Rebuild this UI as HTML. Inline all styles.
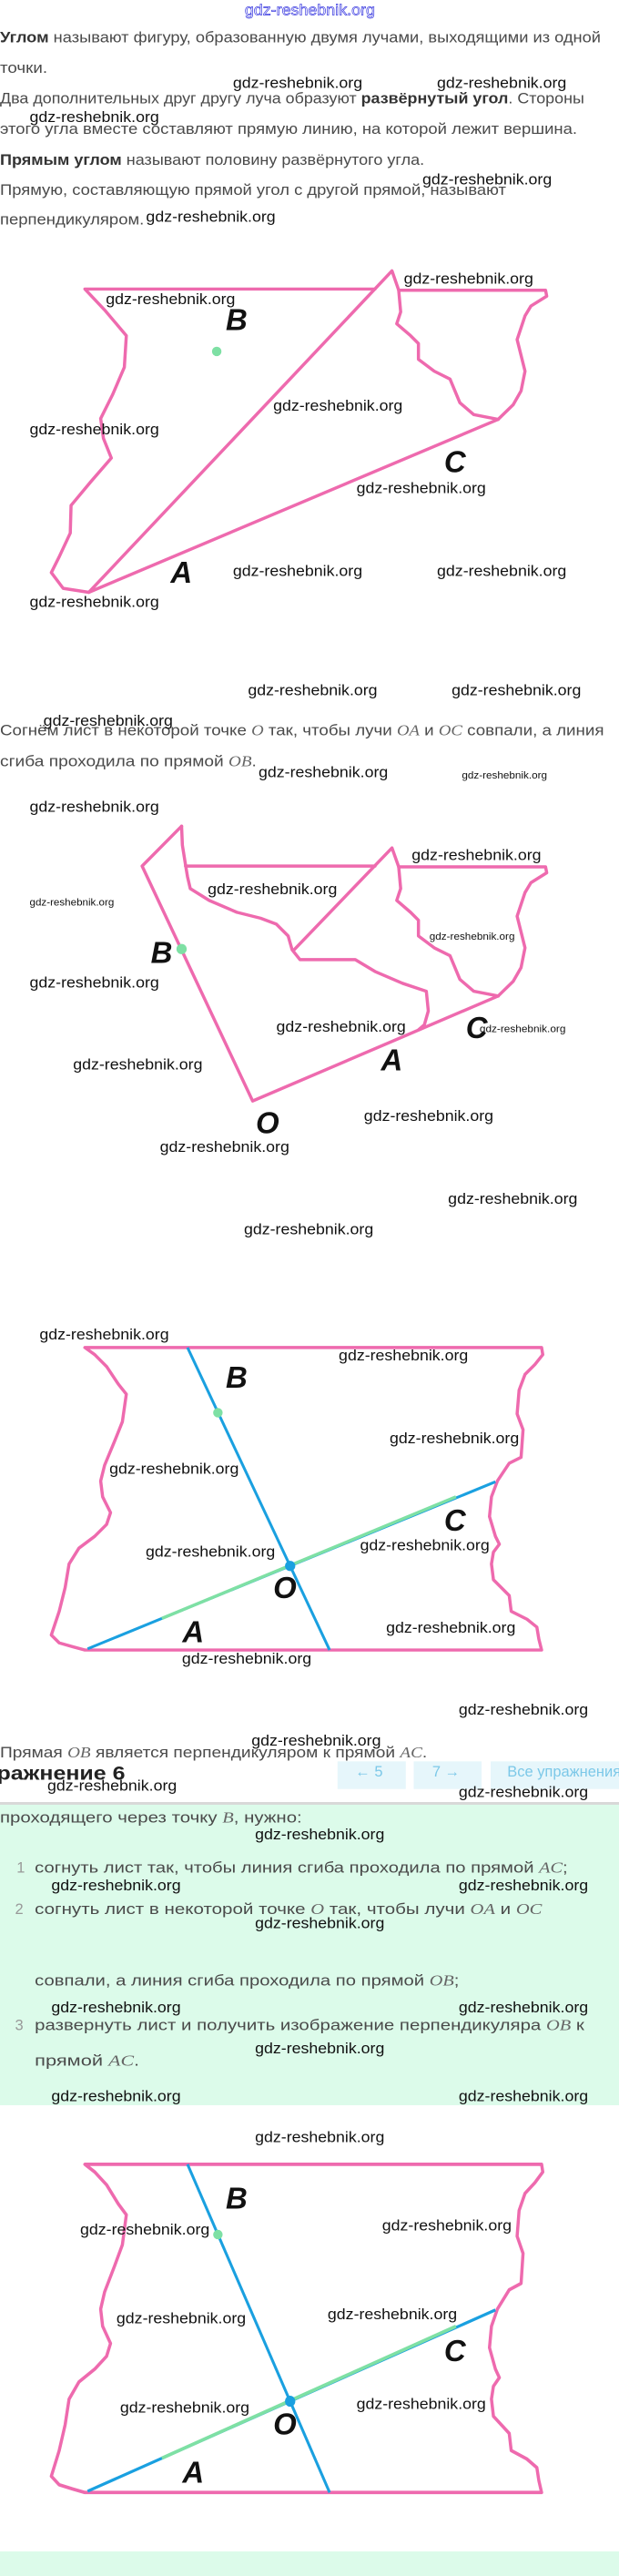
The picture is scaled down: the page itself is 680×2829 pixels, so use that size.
<!DOCTYPE html>
<html><head><meta charset="utf-8"><style>
html,body{margin:0;padding:0;background:#fff;}
svg{display:block;}
.t{font-family:"Liberation Sans",sans-serif;font-size:39px;fill:#4a4a4a;}
.b{font-weight:bold;fill:#333;}
.m{font-family:"Liberation Serif",serif;font-style:italic;fill:#666;}
.w{font-family:"Liberation Sans",sans-serif;font-size:38px;fill:#111;}
.ws{font-family:"Liberation Sans",sans-serif;font-size:26px;fill:#111;}
.l{font-family:"Liberation Sans",sans-serif;font-size:76px;font-weight:bold;font-style:italic;fill:#111;}
.p{fill:none;stroke:#ee6aae;stroke-width:8;stroke-linejoin:round;stroke-linecap:round;}
.n{font-family:"Liberation Sans",sans-serif;font-size:38px;fill:#999;}
</style></head><body>
<svg width="680" height="2829" viewBox="0 0 680 2829" xmlns="http://www.w3.org/2000/svg">
<rect x="0" y="1982" width="680" height="330" fill="#dcfbea"/>
<rect x="0" y="1979" width="680" height="3" fill="#d8d8d8"/>
<rect x="0" y="2802" width="680" height="27" fill="#dcfbea"/>

<!-- Section 1 -->
<g transform="scale(0.43365)">
<text x="620" y="38" font-family="Liberation Sans,sans-serif" font-size="38" fill="none" stroke="#3a3ae0" stroke-width="1.5" textLength="330" lengthAdjust="spacingAndGlyphs">gdz-reshebnik.org</text>
<text class="t" x="0" y="107" textLength="1522" lengthAdjust="spacingAndGlyphs"><tspan class="b">Углом</tspan> называют фигуру, образованную двумя лучами, выходящими из одной</text>
<text class="t" x="0" y="185" textLength="120" lengthAdjust="spacingAndGlyphs">точки.</text>
<text class="t" x="0" y="262" textLength="1480" lengthAdjust="spacingAndGlyphs">Два дополнительных друг другу луча образуют <tspan class="b">развёрнутый угол</tspan>. Стороны</text>
<text class="t" x="0" y="339" textLength="1462" lengthAdjust="spacingAndGlyphs">этого угла вместе составляют прямую линию, на которой лежит вершина.</text>
<text class="t" x="0" y="417" textLength="1075" lengthAdjust="spacingAndGlyphs"><tspan class="b">Прямым углом</tspan> называют половину развёрнутого угла.</text>
<text class="t" x="0" y="493" textLength="1282" lengthAdjust="spacingAndGlyphs">Прямую, составляющую прямой угол с другой прямой, называют</text>
<text class="t" x="0" y="569" textLength="365" lengthAdjust="spacingAndGlyphs">перпендикуляром.</text>

<path class="p" d="M950,732 L215,732 L265,785 L320,850 L315,930 L285,1000 L255,1060 L262,1110 L282,1160 L230,1220 L180,1280 L178,1350 L150,1410 L130,1450 L160,1490 L225,1500"/>
<path class="p" d="M225,1500 L993,686 L1010,735 L1382,735 L1385,750 L1345,775 L1330,800 L1310,860 L1320,900 L1330,940 L1320,990 L1300,1025 L1262,1062 L225,1500"/>
<path class="p" d="M1010,735 L1015,790 L1005,820 L1040,850 L1060,870 L1060,910 L1100,940 L1140,960 L1165,1020 L1200,1050 L1262,1062"/>
<circle cx="549" cy="890" r="12" fill="#7ee0a4"/>
<text class="l" x="572" y="836">B</text>
<text class="l" x="1125" y="1196">C</text>
<text class="l" x="432" y="1476">A</text>

<text class="w" x="590" y="222" textLength="328" lengthAdjust="spacingAndGlyphs">gdz-reshebnik.org</text>
<text class="w" x="1107" y="222" textLength="328" lengthAdjust="spacingAndGlyphs">gdz-reshebnik.org</text>
<text class="w" x="75" y="309" textLength="328" lengthAdjust="spacingAndGlyphs">gdz-reshebnik.org</text>
<text class="w" x="1070" y="467" textLength="328" lengthAdjust="spacingAndGlyphs">gdz-reshebnik.org</text>
<text class="w" x="370" y="562" textLength="328" lengthAdjust="spacingAndGlyphs">gdz-reshebnik.org</text>
<text class="w" x="1023" y="718" textLength="328" lengthAdjust="spacingAndGlyphs">gdz-reshebnik.org</text>
<text class="w" x="268" y="770" textLength="328" lengthAdjust="spacingAndGlyphs">gdz-reshebnik.org</text>
<text class="w" x="692" y="1040" textLength="328" lengthAdjust="spacingAndGlyphs">gdz-reshebnik.org</text>
<text class="w" x="75" y="1100" textLength="328" lengthAdjust="spacingAndGlyphs">gdz-reshebnik.org</text>
<text class="w" x="903" y="1249" textLength="328" lengthAdjust="spacingAndGlyphs">gdz-reshebnik.org</text>
<text class="w" x="590" y="1458" textLength="328" lengthAdjust="spacingAndGlyphs">gdz-reshebnik.org</text>
<text class="w" x="1107" y="1458" textLength="328" lengthAdjust="spacingAndGlyphs">gdz-reshebnik.org</text>
<text class="w" x="75" y="1537" textLength="328" lengthAdjust="spacingAndGlyphs">gdz-reshebnik.org</text>
</g>

<!-- Section 2 -->
<g transform="translate(0,720) scale(0.43365)">
<text class="t" x="0" y="202" textLength="1530" lengthAdjust="spacingAndGlyphs">Согнём лист в некоторой точке <tspan class="m">O</tspan> так, чтобы лучи <tspan class="m">OA</tspan> и <tspan class="m">OC</tspan> совпали, а линия</text>
<text class="t" x="0" y="280" textLength="650" lengthAdjust="spacingAndGlyphs">сгиба проходила по прямой <tspan class="m">OB</tspan>.</text>

<path class="p" d="M460,432 L360,533 L640,1128 L1262,862"/>
<path class="p" d="M460,432 L462,480 L470,530 L475,560 L482,590 L530,620 L600,650 L660,665 L700,680 L730,710 L740,745 L760,770 L820,770 L900,770 L950,800 L1020,830 L1080,850 L1085,900 L1075,935 L1060,948"/>
<path class="p" d="M470,533 L950,533"/>
<path class="p" d="M745,745 L993,487 L1010,535 L1382,535 L1385,550 L1345,575 L1330,600 L1310,660 L1320,700 L1330,740 L1320,790 L1300,825 L1262,862"/>
<path class="p" d="M1010,535 L1015,590 L1005,620 L1040,650 L1060,670 L1060,710 L1100,740 L1140,760 L1165,820 L1200,850 L1262,862"/>
<circle cx="460" cy="743" r="13" fill="#7ee0a4"/>
<text class="l" x="382" y="778">B</text>
<text class="l" x="1180" y="968">C</text>
<text class="l" x="965" y="1050">A</text>
<text class="l" x="648" y="1210">O</text>

<text class="w" x="628" y="100" textLength="328" lengthAdjust="spacingAndGlyphs">gdz-reshebnik.org</text>
<text class="w" x="1144" y="100" textLength="328" lengthAdjust="spacingAndGlyphs">gdz-reshebnik.org</text>
<text class="w" x="110" y="177" textLength="328" lengthAdjust="spacingAndGlyphs">gdz-reshebnik.org</text>
<text class="w" x="655" y="308" textLength="328" lengthAdjust="spacingAndGlyphs">gdz-reshebnik.org</text>
<text class="ws" x="1170" y="311" textLength="216" lengthAdjust="spacingAndGlyphs">gdz-reshebnik.org</text>
<text class="w" x="75" y="395" textLength="328" lengthAdjust="spacingAndGlyphs">gdz-reshebnik.org</text>
<text class="w" x="1043" y="518" textLength="328" lengthAdjust="spacingAndGlyphs">gdz-reshebnik.org</text>
<text class="w" x="526" y="604" textLength="328" lengthAdjust="spacingAndGlyphs">gdz-reshebnik.org</text>
<text class="ws" x="75" y="633" textLength="214" lengthAdjust="spacingAndGlyphs">gdz-reshebnik.org</text>
<text class="ws" x="1088" y="720" textLength="216" lengthAdjust="spacingAndGlyphs">gdz-reshebnik.org</text>
<text class="w" x="75" y="840" textLength="328" lengthAdjust="spacingAndGlyphs">gdz-reshebnik.org</text>
<text class="w" x="700" y="952" textLength="328" lengthAdjust="spacingAndGlyphs">gdz-reshebnik.org</text>
<text class="ws" x="1215" y="954" textLength="218" lengthAdjust="spacingAndGlyphs">gdz-reshebnik.org</text>
<text class="w" x="185" y="1048" textLength="328" lengthAdjust="spacingAndGlyphs">gdz-reshebnik.org</text>
<text class="w" x="922" y="1178" textLength="328" lengthAdjust="spacingAndGlyphs">gdz-reshebnik.org</text>
<text class="w" x="405" y="1257" textLength="328" lengthAdjust="spacingAndGlyphs">gdz-reshebnik.org</text>
<text class="w" x="1135" y="1388" textLength="328" lengthAdjust="spacingAndGlyphs">gdz-reshebnik.org</text>
<text class="w" x="618" y="1466" textLength="328" lengthAdjust="spacingAndGlyphs">gdz-reshebnik.org</text>
</g>

<defs>
<g id="fig">
<path class="p" d="M215,92 L1372,92 L1375,110 L1355,135 L1330,160 L1315,200 L1310,260 L1325,300 L1320,370 L1290,385 L1260,430 L1245,470 L1240,520 L1255,570 L1265,590 L1250,610 L1245,640 L1250,680 L1290,720 L1295,760 L1335,780 L1360,800 L1365,830 L1372,858 L215,858 L185,850 L150,840 L130,820 L140,790 L150,760 L165,700 L175,640 L200,600 L240,570 L270,540 L280,510 L260,470 L255,430 L265,390 L290,330 L310,280 L320,210 L300,185 L270,140 L240,110 Z"/>
<path d="M475,92 L835,858" stroke="#1aa0e0" stroke-width="7" fill="none"/>
<path d="M222,855 L1255,432" stroke="#1aa0e0" stroke-width="7" fill="none"/>
<path d="M410,778 L1155,470" stroke="#7ee0a4" stroke-width="8" fill="none"/>
<circle cx="735" cy="645" r="13" fill="#1aa0e0"/>
</g>
</defs>

<!-- Section 3 -->
<g transform="translate(0,1440) scale(0.43365)">
<use href="#fig"/>
<circle cx="552" cy="257" r="12" fill="#7ee0a4"/>
<text class="l" x="572" y="194">B</text>
<text class="l" x="1125" y="556">C</text>
<text class="l" x="692" y="726">O</text>
<text class="l" x="462" y="838">A</text>

<text class="w" x="100" y="72" textLength="328" lengthAdjust="spacingAndGlyphs">gdz-reshebnik.org</text>
<text class="w" x="858" y="125" textLength="328" lengthAdjust="spacingAndGlyphs">gdz-reshebnik.org</text>
<text class="w" x="987" y="334" textLength="328" lengthAdjust="spacingAndGlyphs">gdz-reshebnik.org</text>
<text class="w" x="277" y="412" textLength="328" lengthAdjust="spacingAndGlyphs">gdz-reshebnik.org</text>
<text class="w" x="369" y="622" textLength="328" lengthAdjust="spacingAndGlyphs">gdz-reshebnik.org</text>
<text class="w" x="912" y="605" textLength="328" lengthAdjust="spacingAndGlyphs">gdz-reshebnik.org</text>
<text class="w" x="978" y="814" textLength="328" lengthAdjust="spacingAndGlyphs">gdz-reshebnik.org</text>
<text class="w" x="461" y="892" textLength="328" lengthAdjust="spacingAndGlyphs">gdz-reshebnik.org</text>
<text class="w" x="1162" y="1022" textLength="328" lengthAdjust="spacingAndGlyphs">gdz-reshebnik.org</text>

<text class="t" x="0" y="1130" textLength="1082" lengthAdjust="spacingAndGlyphs">Прямая <tspan class="m">OB</tspan> является перпендикуляром к прямой <tspan class="m">AC</tspan>.</text>
<text class="w" x="637" y="1100" textLength="328" lengthAdjust="spacingAndGlyphs">gdz-reshebnik.org</text>
<text x="-8" y="1186" font-family="Liberation Sans,sans-serif" font-weight="bold" font-size="48" fill="#222" textLength="325" lengthAdjust="spacingAndGlyphs">ражнение 6</text>
<rect x="855" y="1140" width="173" height="70" fill="#e6f6fb"/>
<rect x="1048" y="1140" width="172" height="70" fill="#e6f6fb"/>
<rect x="1243" y="1140" width="330" height="70" fill="#e6f6fb"/>
<text x="900" y="1178" font-family="Liberation Sans,sans-serif" font-size="38" fill="#7cc8e8">← 5</text>
<text x="1095" y="1178" font-family="Liberation Sans,sans-serif" font-size="38" fill="#7cc8e8">7 →</text>
<text x="1285" y="1178" font-family="Liberation Sans,sans-serif" font-size="38" fill="#7cc8e8">Все упражнения</text>
<text class="w" x="120" y="1214" textLength="328" lengthAdjust="spacingAndGlyphs">gdz-reshebnik.org</text>
<text class="w" x="1162" y="1230" textLength="328" lengthAdjust="spacingAndGlyphs">gdz-reshebnik.org</text>

<text class="t" x="0" y="1295" textLength="765" lengthAdjust="spacingAndGlyphs">проходящего через точку <tspan class="m">B</tspan>, нужно:</text>
<text class="w" x="646" y="1337" textLength="328" lengthAdjust="spacingAndGlyphs">gdz-reshebnik.org</text>
<text class="n" x="42" y="1422">1</text>
<text class="t" x="88" y="1422" textLength="1350" lengthAdjust="spacingAndGlyphs">согнуть лист так, чтобы линия сгиба проходила по прямой <tspan class="m">AC</tspan>;</text>
<text class="w" x="130" y="1467" textLength="328" lengthAdjust="spacingAndGlyphs">gdz-reshebnik.org</text>
<text class="w" x="1162" y="1467" textLength="328" lengthAdjust="spacingAndGlyphs">gdz-reshebnik.org</text>
<text class="n" x="38" y="1527">2</text>
<text class="t" x="88" y="1527" textLength="1285" lengthAdjust="spacingAndGlyphs">согнуть лист в некоторой точке <tspan class="m">O</tspan> так, чтобы лучи <tspan class="m">OA</tspan> и <tspan class="m">OC</tspan></text>
<text class="w" x="646" y="1562" textLength="328" lengthAdjust="spacingAndGlyphs">gdz-reshebnik.org</text>
</g>

<!-- Section 4 -->
<g transform="translate(0,2160) scale(0.43365)">
<text class="t" x="88" y="47" textLength="1075" lengthAdjust="spacingAndGlyphs">совпали, а линия сгиба проходила по прямой <tspan class="m">OB</tspan>;</text>
<text class="w" x="130" y="115" textLength="328" lengthAdjust="spacingAndGlyphs">gdz-reshebnik.org</text>
<text class="w" x="1162" y="115" textLength="328" lengthAdjust="spacingAndGlyphs">gdz-reshebnik.org</text>
<text class="n" x="38" y="160">3</text>
<text class="t" x="88" y="160" textLength="1392" lengthAdjust="spacingAndGlyphs">развернуть лист и получить изображение перпендикуляра <tspan class="m">OB</tspan> к</text>
<text class="w" x="646" y="219" textLength="328" lengthAdjust="spacingAndGlyphs">gdz-reshebnik.org</text>
<text class="t" x="88" y="250" textLength="265" lengthAdjust="spacingAndGlyphs">прямой <tspan class="m">AC</tspan>.</text>
<text class="w" x="130" y="340" textLength="328" lengthAdjust="spacingAndGlyphs">gdz-reshebnik.org</text>
<text class="w" x="1162" y="340" textLength="328" lengthAdjust="spacingAndGlyphs">gdz-reshebnik.org</text>
<text class="w" x="646" y="444" textLength="328" lengthAdjust="spacingAndGlyphs">gdz-reshebnik.org</text>

<g transform="translate(0,500) scale(1,1.0852) translate(0,-92)">
<use href="#fig"/>
</g>
<circle cx="552" cy="678" r="12" fill="#7ee0a4"/>
<text class="l" x="572" y="612">B</text>
<text class="l" x="1125" y="998">C</text>
<text class="l" x="692" y="1184">O</text>
<text class="l" x="462" y="1306">A</text>

<text class="w" x="203" y="678" textLength="328" lengthAdjust="spacingAndGlyphs">gdz-reshebnik.org</text>
<text class="w" x="968" y="668" textLength="328" lengthAdjust="spacingAndGlyphs">gdz-reshebnik.org</text>
<text class="w" x="295" y="903" textLength="328" lengthAdjust="spacingAndGlyphs">gdz-reshebnik.org</text>
<text class="w" x="830" y="893" textLength="328" lengthAdjust="spacingAndGlyphs">gdz-reshebnik.org</text>
<text class="w" x="304" y="1129" textLength="328" lengthAdjust="spacingAndGlyphs">gdz-reshebnik.org</text>
<text class="w" x="903" y="1119" textLength="328" lengthAdjust="spacingAndGlyphs">gdz-reshebnik.org</text>
</g>
</svg>
</body></html>
